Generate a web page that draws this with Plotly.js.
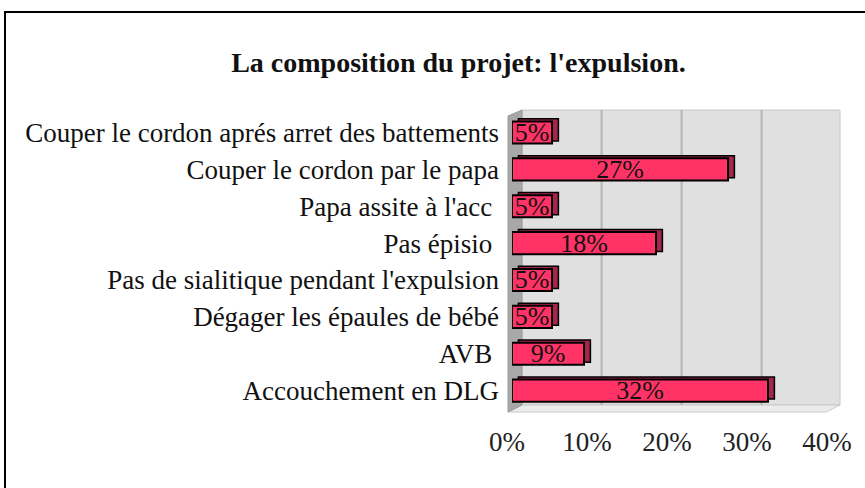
<!DOCTYPE html>
<html>
<head>
<meta charset="utf-8">
<script src="https://cdn.plot.ly/plotly-3.0.1.min.js"></script>
<style>html,body{margin:0;padding:0;background:#fff;}#chart{width:865px;height:488px;}</style>
</head>
<body>
<div id="chart"></div>
<script>
const categories = [
  "Couper le cordon aprés arret des battements",
  "Couper le cordon par le papa",
  "Papa assite à l'acc\u00a0",
  "Pas épisio\u00a0",
  "Pas de sialitique pendant l'expulsion",
  "Dégager les épaules de bébé",
  "AVB\u00a0",
  "Accouchement en DLG"
];
const values = [5, 27, 5, 18, 5, 5, 9, 32];
const valueLabels = ["5%", "27%", "5%", "18%", "5%", "5%", "9%", "32%"];
const tickVals = [0, 10, 20, 30, 40];
const tickText = ["0%", "10%", "20%", "30%", "40%"];

const W = 865, H = 488;
const px = v => v / W;
const py = v => 1 - v / H;
const serif = "Liberation Serif, Times New Roman, serif";

const shadow = {
  type: 'bar', orientation: 'h', y: categories, x: values,
  base: 0.8, width: 0.6, offset: -0.37,
  marker: {color: '#a3264d', line: {color: '#000', width: 1.5}},
  hoverinfo: 'skip', showlegend: false
};
const bars = {
  type: 'bar', orientation: 'h', y: categories, x: values,
  width: 0.6, offset: -0.3,
  marker: {color: '#ff3366', line: {color: '#000', width: 2}},
  text: valueLabels, textposition: 'inside', insidetextanchor: 'middle',
  constraintext: 'none', cliponaxis: false,
  textfont: {family: serif, size: 26, color: '#111'},
  hoverinfo: 'x+y', showlegend: false
};

const shapes = [
  // outer frame
  {type: 'rect', xref: 'paper', yref: 'paper', x0: px(5), x1: px(875), y0: py(500), y1: py(12),
   line: {color: '#000', width: 2}, fillcolor: 'rgba(0,0,0,0)', layer: 'below'},
  // back wall
  {type: 'rect', xref: 'paper', yref: 'paper', x0: px(522), x1: px(840), y0: py(405), y1: py(110),
   line: {color: '#c8c8c8', width: 1}, fillcolor: '#e0e0e0', layer: 'below'},
  // floor
  {type: 'path', xref: 'paper', yref: 'paper',
   path: `M ${px(508)} ${py(412)} L ${px(522)} ${py(405)} L ${px(840)} ${py(405)} L ${px(826)} ${py(412)} Z`,
   line: {color: '#c8c8c8', width: 1}, fillcolor: '#ececec', layer: 'below'},
  // left wall
  {type: 'path', xref: 'paper', yref: 'paper',
   path: `M ${px(508)} ${py(116)} L ${px(522)} ${py(110)} L ${px(522)} ${py(405)} L ${px(508)} ${py(412)} Z`,
   line: {color: '#999', width: 1}, fillcolor: '#a8a8a8', layer: 'below'}
];
// grid lines on the back wall (shifted by the 3D depth)
tickVals.slice(1, 4).forEach(t => {
  shapes.push({type: 'line', xref: 'x', yref: 'paper', x0: t + 1.2, x1: t + 1.2, y0: py(405), y1: py(110),
    line: {color: '#b4b4b4', width: 2}, layer: 'below'});
});

const layout = {
  width: W, height: H,
  margin: {l: 0, r: 0, t: 0, b: 0},
  paper_bgcolor: '#fff', plot_bgcolor: 'rgba(0,0,0,0)',
  barmode: 'overlay',
  title: {text: "La composition du projet: l'expulsion.", x: 0.53, xanchor: 'center', y: py(62), yanchor: 'middle',
          font: {family: serif, size: 28, color: '#111', weight: 'bold'}},
  xaxis: {domain: [px(512), px(832)], range: [0, 40], showgrid: false, zeroline: false,
          tickvals: tickVals, ticktext: tickText, ticks: '', ticklabelstandoff: 14, ticklabelshift: -5,
          tickfont: {family: serif, size: 27, color: '#222'}, fixedrange: true},
  yaxis: {domain: [py(409), py(114)], autorange: 'reversed', showgrid: false, zeroline: false,
          ticks: '', ticklabelstandoff: 12, tickfont: {family: serif, size: 27, color: '#111'}, fixedrange: true},
  shapes: shapes,
  font: {family: serif}
};

Plotly.newPlot('chart', [shadow, bars], layout, {displayModeBar: false, staticPlot: true});
</script>
</body>
</html>
